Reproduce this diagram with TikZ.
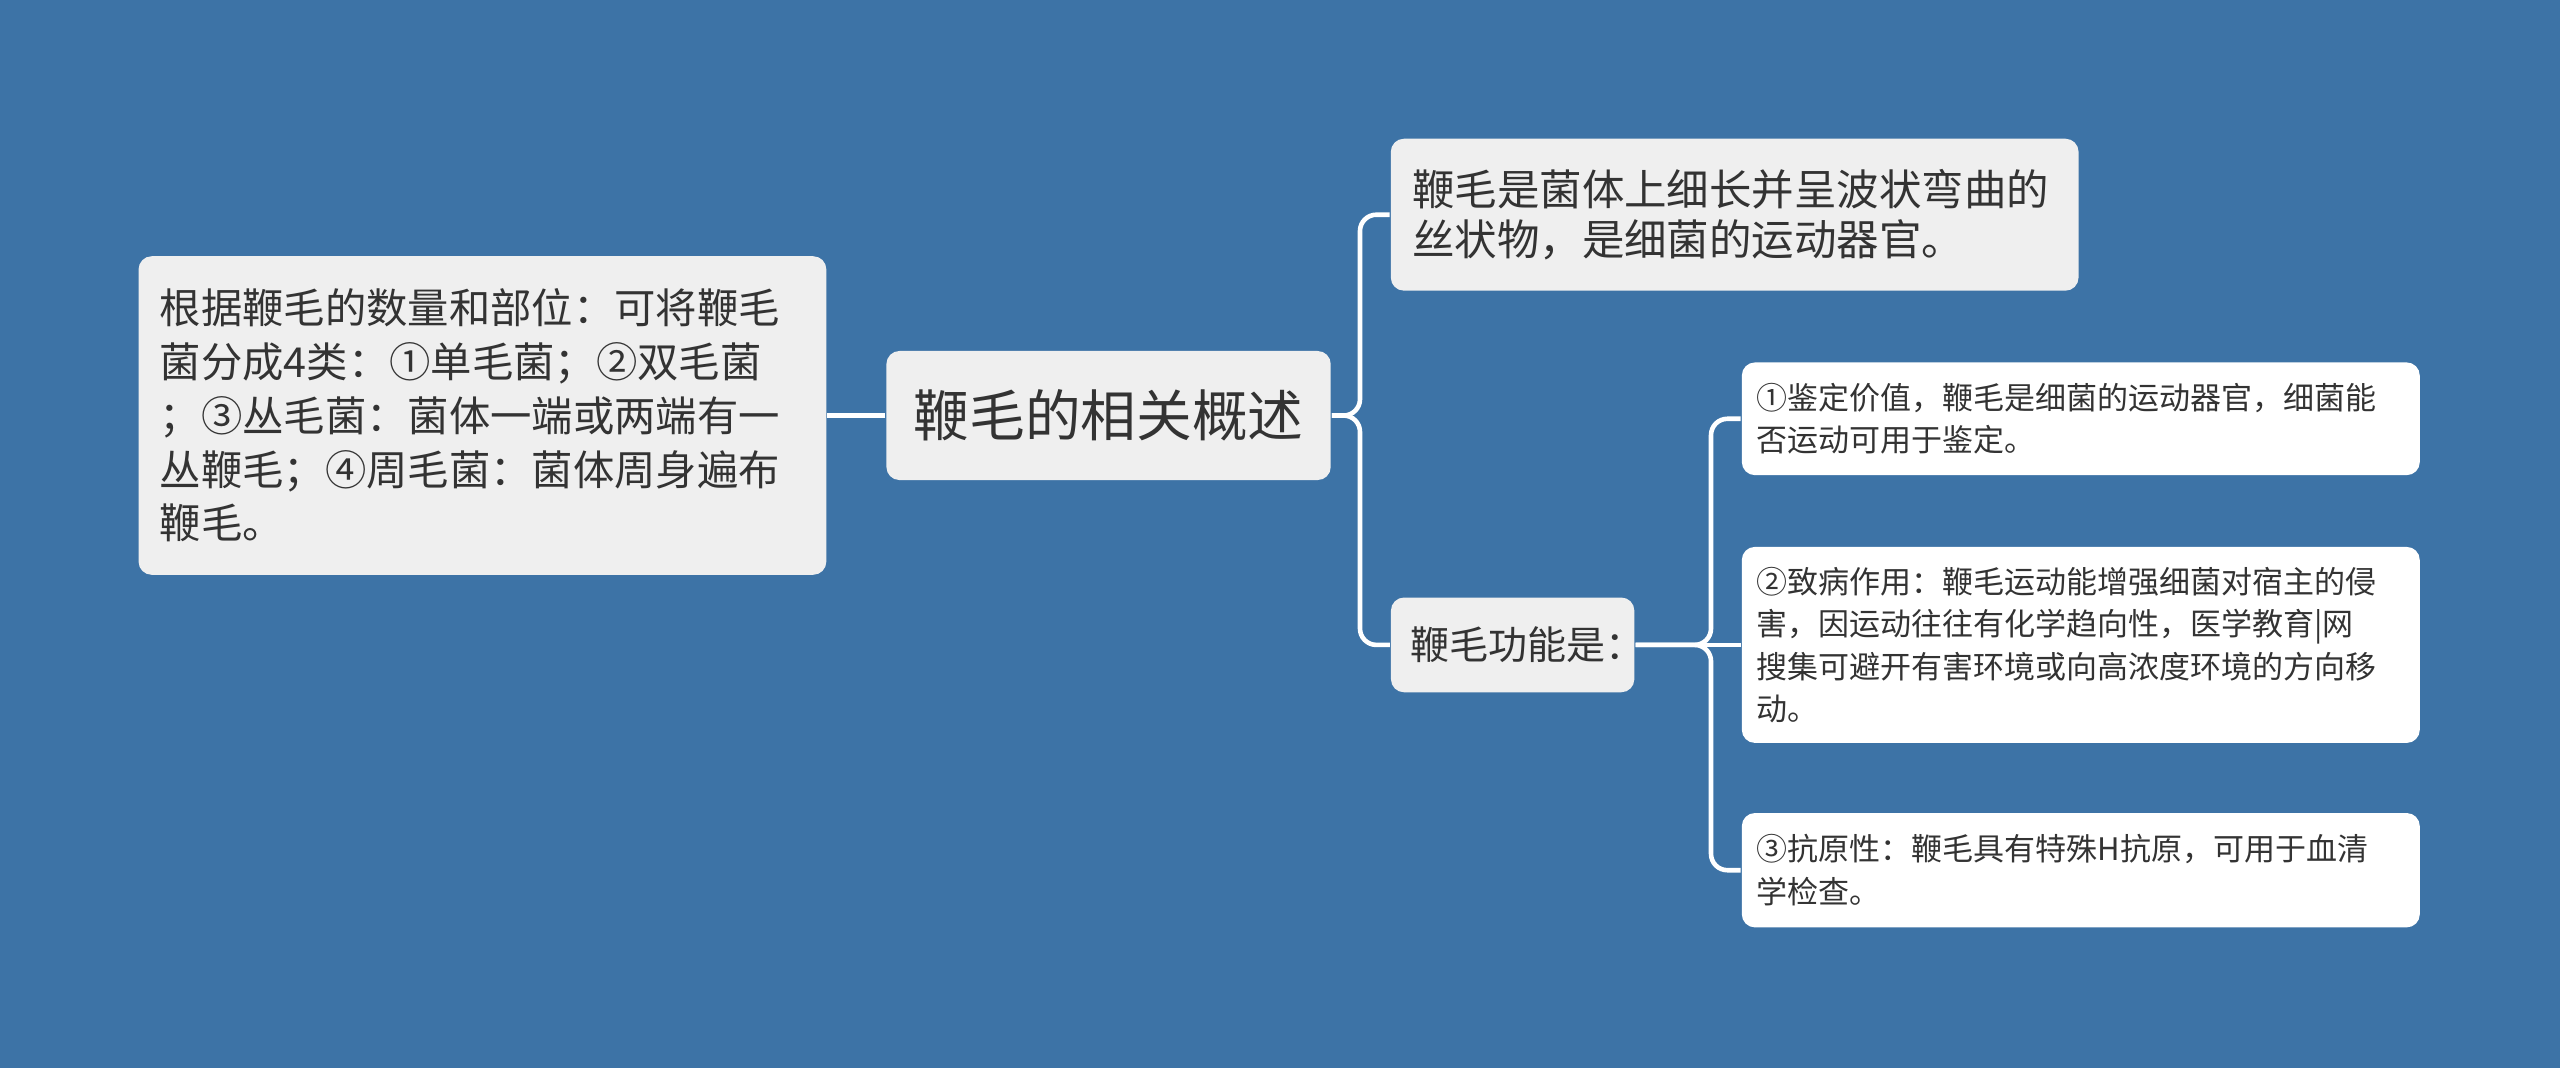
\documentclass[tikz,border=0pt]{standalone}
\usepackage{fontspec}
\setmainfont{Noto Sans CJK SC}
\definecolor{bg}{HTML}{3D73A6}
\definecolor{bx}{HTML}{EFEFEF}
\definecolor{tx}{HTML}{333333}
\begin{document}
\begin{tikzpicture}[x=0.01cm,y=-0.01cm,
  box/.style={fill=bx,rounded corners=0.08cm,inner sep=0pt,text=tx,align=left},
  leaf/.style={box,fill=white,minimum width=4.15cm,text width=3.97cm,font=\fontsize{5.4}{7.4}\selectfont},
  ln/.style={draw=white,line width=0.8pt,rounded corners=0.1cm}]
\fill[bg] (0,0) rectangle (1568,654);
\useasboundingbox (0,0) rectangle (1568,654);
\node[box,minimum width=2.72cm,minimum height=0.79cm,font=\fontsize{9.7}{11}\selectfont] (c) at (679,254.5) {鞭毛的相关概述};
\node[box,minimum width=4.21cm,minimum height=1.95cm,text width=3.95cm,font=\fontsize{7.2}{9.35}\selectfont] (l) at (295.5,254.5) {根据鞭毛的数量和部位：可将鞭毛\\菌分成4类：①单毛菌；②双毛菌\\；③丛毛菌：菌体一端或两端有一\\丛鞭毛；④周毛菌：菌体周身遍布\\鞭毛。};
\node[box,minimum width=4.21cm,minimum height=0.93cm,text width=3.95cm,font=\fontsize{7.4}{8.8}\selectfont] (t) at (1062.5,131.5) {鞭毛是菌体上细长并呈波状弯曲的\\丝状物，是细菌的运动器官。};
\node[box,minimum width=1.49cm,minimum height=0.58cm,text width=1.25cm,font=\fontsize{6.8}{8}\selectfont] (f) at (926.5,395) {鞭毛功能是：};
\node[leaf,minimum height=0.69cm] (r1) at (1274.5,256.5) {①鉴定价值，鞭毛是细菌的运动器官，细菌能\\否运动可用于鉴定。};
\node[leaf,minimum height=1.2cm] (r2) at (1274.5,395) {②致病作用：鞭毛运动能增强细菌对宿主的侵\\害，因运动往往有化学趋向性，医学教育|网\\搜集可避开有害环境或向高浓度环境的方向移\\动。};
\node[leaf,minimum height=0.7cm] (r3) at (1274.5,533) {③抗原性：鞭毛具有特殊H抗原，可用于血清\\学检查。};
\draw[ln] (c.west) -- (l.east);
\draw[ln] (c.east) -- (833,254.5) |- (t.west);
\draw[ln] (c.east) -- (833,254.5) |- (f.west);
\draw[ln] (f.east) -- (1048,395) |- (r1.west);
\draw[ln] (f.east) -- (r2.west);
\draw[ln] (f.east) -- (1048,395) |- (r3.west);
\end{tikzpicture}
\end{document}
